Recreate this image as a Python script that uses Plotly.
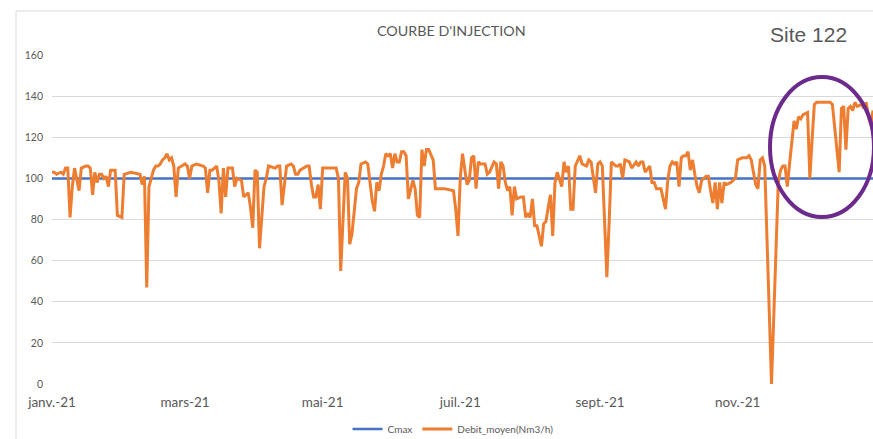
import pandas as pd
import plotly.graph_objects as go

# ---- data ----
day_of_year = [
    0, 1, 2, 4, 5, 6, 7, 8, 9, 10, 12, 13, 15, 16, 17, 18, 19, 20, 21, 22, 23, 24, 25, 26, 28, 29, 31, 32,
    35, 39, 40, 41, 42, 43, 45, 46, 47, 48, 49, 50, 51, 52, 53, 54, 55, 56, 59, 60, 61,
    62, 64, 67, 68, 69, 70, 71, 73, 74, 75, 76, 77, 78, 80, 81, 82, 84, 85, 87, 88, 89, 90, 91, 92,
    94, 95, 96, 99, 100, 101, 102, 104, 106, 107, 108, 109, 110, 113, 114, 115, 116, 117, 118, 119, 120, 121,
    122, 125, 126, 127, 128, 130, 131, 132, 133, 135, 136, 137, 139, 140, 141, 142, 143, 144, 145, 146,
    147, 148, 149, 150, 151, 152, 153, 154, 155, 156, 157, 158, 160, 161, 162, 163, 164, 165, 166, 167,
    169, 170, 172, 174, 178, 179, 180, 181,
    182, 184, 185, 186, 187, 188, 189, 190, 192, 193, 194, 196, 197, 198, 199, 200, 201, 202, 203, 204,
    205, 206, 208, 209, 210, 211, 212, 213, 214, 215, 216, 217, 218, 219, 220, 221, 222, 223, 224, 226,
    227, 228, 229, 230, 231, 232, 234, 235, 237, 238, 239, 241, 242, 243,
    244, 246, 247, 248, 250, 251, 252, 253, 254, 256, 257, 259, 260, 261, 262, 263, 265, 266, 267, 268,
    270, 271, 272, 273, 274, 275, 276, 277, 278, 279, 280, 281, 282, 283, 284, 285, 286, 287, 288, 290,
    291, 292, 293, 294, 295, 296, 297, 298, 299, 301, 302, 303,
    304, 306, 308, 309, 310, 311, 312, 313, 314, 315, 316, 319, 322, 323, 324, 325, 326, 327, 328, 329,
    330, 331, 332, 333, 335, 336, 337, 338, 339, 342, 345, 346, 349, 350, 351, 352, 353, 354, 355, 356,
    357, 359, 360, 361, 362, 363, 364,
]
debit_moyen = [
    103, 103, 102, 103, 102, 105, 105, 81, 96, 105, 94, 105, 106, 106, 105, 92, 103, 98, 102, 102, 100, 101, 96, 104, 104, 82, 81, 102,
    103, 102, 97, 101, 47, 96, 104, 106, 106, 107, 109, 110, 112, 109, 110, 106, 91, 105, 107, 106, 100,
    106, 107, 106, 105, 93, 104, 104, 106, 99, 83, 105, 91, 105, 105, 96, 100, 99, 91, 93, 86, 76, 104, 103, 66,
    96, 100, 106, 105, 106, 106, 87, 106, 107, 106, 102, 102, 104, 106, 106, 97, 91, 91, 97, 85, 105, 105,
    105, 105, 105, 100, 55, 103, 100, 68, 73, 95, 98, 107, 108, 107, 99, 89, 84, 98, 94, 102,
    106, 112, 111, 112, 105, 112, 108, 108, 113, 113, 111, 90, 99, 95, 82, 81, 114, 106, 114, 114,
    109, 95, 95, 95, 94, 85, 72, 100,
    112, 97, 99, 110, 111, 95, 108, 107, 107, 102, 103, 108, 107, 95, 108, 106, 98, 94, 96, 82,
    96, 90, 91, 91, 81, 83, 81, 90, 77, 77, 72, 67, 78, 79, 86, 92, 72, 98, 103, 96,
    108, 103, 106, 85, 85, 106, 111, 107, 106, 109, 108, 93, 107, 108,
    106, 52, 78, 108, 106, 106, 107, 100, 109, 108, 105, 108, 106, 108, 108, 103, 106, 98, 98, 95,
    95, 90, 85, 99, 106, 108, 107, 108, 96, 110, 111, 111, 113, 104, 109, 102, 96, 93, 99, 101,
    101, 94, 88, 98, 85, 98, 88, 98, 97, 98, 99, 100,
    109, 110, 110, 111, 109, 103, 97, 95, 109, 110, 106, 0, 98, 104, 106, 106, 96, 107, 119, 128,
    124, 130, 129, 131, 132, 100, 119, 136, 137, 137, 137, 136, 103, 134, 135, 114, 134, 135, 133, 137,
    135, 136, 134, 137, 130, 126, 133,
]
cmax_dates = ["2021-01-01", "2021-12-31"]
cmax_values = [100, 100]

tick_dates = ["2021-01-01", "2021-03-01", "2021-05-01", "2021-07-01", "2021-09-01", "2021-11-01"]
tick_labels = ["janv.-21", "mars-21", "mai-21", "juil.-21", "sept.-21", "nov.-21"]
y_ticks = [0, 20, 40, 60, 80, 100, 120, 140, 160]

dates = pd.Timestamp("2021-01-01") + pd.to_timedelta(day_of_year, unit="D")

fig = go.Figure()
fig.add_trace(go.Scatter(
    x=pd.to_datetime(cmax_dates), y=cmax_values, mode="lines", name="Cmax",
    line=dict(color="#4472C4", width=2.5),
))
fig.add_trace(go.Scatter(
    x=dates, y=debit_moyen, mode="lines", name="Debit_moyen(Nm3/h)",
    line=dict(color="#ED7D31", width=3),
))

GRAY = "#595959"
fig.update_layout(
    width=873, height=439,
    margin=dict(l=52, r=0, t=55, b=55),
    paper_bgcolor="white", plot_bgcolor="white",
    font=dict(family="Lato, Open Sans, sans-serif", color=GRAY, size=11),
    showlegend=True,
    legend=dict(orientation="h", xref="container", yref="container",
                x=453 / 873, xanchor="center", y=(439 - 429) / 439, yanchor="middle",
                font=dict(size=10, color=GRAY), itemwidth=30, tracegroupgap=0,
                bgcolor="rgba(0,0,0,0)"),
    xaxis=dict(
        range=["2021-01-01", "2021-12-31"], automargin=False,
        tickmode="array", tickvals=pd.to_datetime(tick_dates), ticktext=tick_labels,
        showgrid=False, zeroline=False, showline=False, ticks="",
        tickfont=dict(size=13.5, color=GRAY), ticklabelstandoff=8,
    ),
    yaxis=dict(
        range=[0, 160], tickmode="array", tickvals=y_ticks, automargin=False,
        showgrid=True, gridcolor="#d9d9d9", gridwidth=1,
        zeroline=False, showline=False, ticks="",
        tickfont=dict(size=10.5, color=GRAY), ticklabelstandoff=8,
    ),
    shapes=[
        # outer chart frame
        dict(type="rect", xref="paper", yref="paper",
             x0=(16 - 52) / 821, x1=1.2, y0=-0.3, y1=(384 - 11) / 329,
             line=dict(color="#d9d9d9", width=1), fillcolor="rgba(0,0,0,0)", layer="below"),
        # highlight ellipse
        dict(type="circle", xref="paper", yref="paper",
             x0=(770 - 52) / 821, x1=(874 - 52) / 821,
             y0=(384 - 217) / 329, y1=(384 - 77) / 329,
             line=dict(color="#6C2A8C", width=4), fillcolor="rgba(0,0,0,0)"),
    ],
    annotations=[
        dict(text="COURBE D'INJECTION", xref="paper", yref="paper",
             x=(451 - 52) / 821, y=(384 - 31) / 329, xanchor="center", yanchor="middle",
             showarrow=False, font=dict(size=14.3, color=GRAY, family="Lato, sans-serif")),
        dict(text="Site 122", xref="paper", yref="paper",
             x=(808 - 52) / 821, y=(384 - 34) / 329, xanchor="center", yanchor="middle",
             showarrow=False, font=dict(size=21, color=GRAY, family="Liberation Sans, Arial, sans-serif")),
    ],
)

fig.write_html(
    "out.html",
    config={"displayModeBar": False},
    post_script="document.body.style.margin='0';document.body.style.overflow='hidden';",
)
